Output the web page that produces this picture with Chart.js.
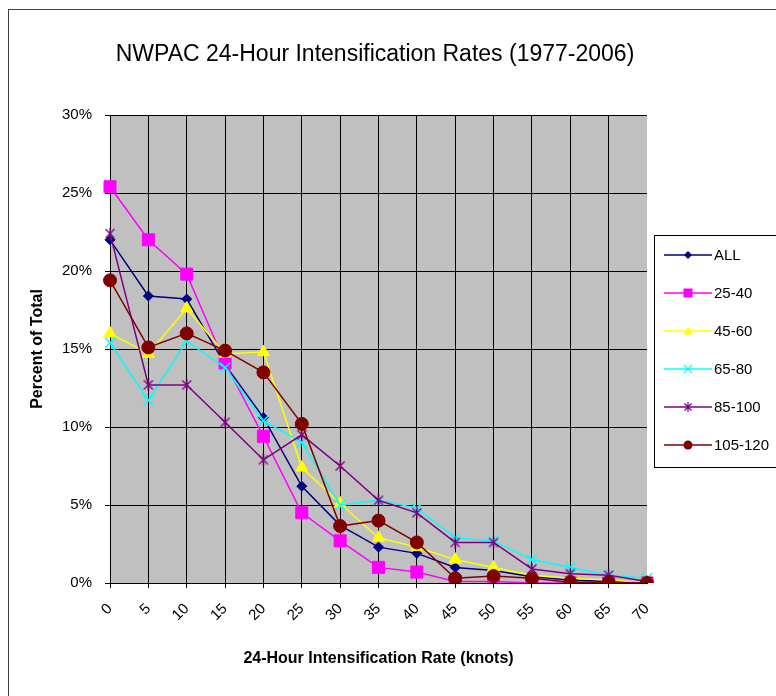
<!DOCTYPE html>
<html>
<head>
<meta charset="utf-8">
<script src="https://cdn.jsdelivr.net/npm/chart.js@4/dist/chart.umd.min.js"></script>
<style>
  html, body { margin: 0; padding: 0; background: #ffffff; }
  #wrap { width: 776px; height: 696px; position: relative; }
</style>
</head>
<body>
<div id="wrap"><canvas id="chart" width="776" height="696"></canvas></div>
<script>
// Intensification rate bins (knots per 24 h)
const rateBins = ['0', '5', '10', '15', '20', '25', '30', '35', '40', '45', '50', '55', '60', '65', '70'];

// Series names (initial intensity groups, knots)
const seriesNames = ['ALL', '25-40', '45-60', '65-80', '85-100', '105-120'];

// Percent of total cases in each bin
const allRates     = [22.0, 18.4, 18.2, 14.0, 10.6, 6.2, 3.7, 2.3, 1.9, 1.0, 0.8, 0.4, 0.2, 0.1, 0.0];
const rates25to40  = [25.4, 22.0, 19.8, 14.1, 9.4, 4.5, 2.7, 1.0, 0.7, 0.1, 0.1, 0.0, 0.0, 0.0, 0.0];
const rates45to60  = [16.0, 14.7, 17.6, 14.7, 14.8, 7.4, 5.1, 2.9, 2.3, 1.5, 1.0, 0.5, 0.3, 0.2, 0.0];
const rates65to80  = [15.4, 11.7, 15.5, 13.8, 10.4, 9.0, 5.0, 5.3, 4.8, 2.9, 2.7, 1.5, 1.0, 0.5, 0.3];
const rates85to100 = [22.4, 12.7, 12.7, 10.3, 7.9, 9.5, 7.5, 5.3, 4.5, 2.6, 2.6, 0.9, 0.6, 0.5, 0.1];
const rates105to120 = [19.4, 15.1, 16.0, 14.9, 13.5, 10.2, 3.65, 4.0, 2.6, 0.3, 0.45, 0.3, 0.05, 0.05, 0.0];

// Y axis tick values (percent)
const yTicks = [0, 5, 10, 15, 20, 25, 30];

const titleText = 'NWPAC 24-Hour Intensification Rates (1977-2006)';
const xAxisTitle = '24-Hour Intensification Rate (knots)';
const yAxisTitle = 'Percent of Total';

const FONT = '"Liberation Sans", Arial, Helvetica, sans-serif';

// Asterisk marker (X with a vertical bar) rendered to a small canvas
function makeAsterisk(size, color, lw) {
  const c = document.createElement('canvas');
  c.width = size; c.height = size;
  const g = c.getContext('2d');
  g.strokeStyle = color; g.lineWidth = lw;
  const m = size / 2, r = size / 2 - 1, d = r * 0.75;
  g.beginPath();
  g.moveTo(m - d, m - d); g.lineTo(m + d, m + d);
  g.moveTo(m + d, m - d); g.lineTo(m - d, m + d);
  g.moveTo(m, m - r); g.lineTo(m, m + r);
  g.stroke();
  return c;
}

const purple = '#800080';
const starMarker = makeAsterisk(14, purple, 1.3);

const seriesStyles = [
  { color: '#000080', style: 'rectRot',  radius: 5 },
  { color: '#FF00FF', style: 'rect',     radius: 8.5 },
  { color: '#FFFF00', style: 'triangle', radius: 7 },
  { color: '#00FFFF', style: 'crossRot', radius: 7 },
  { color: purple,    style: starMarker, radius: 7 },
  { color: '#800000', style: 'circle',   radius: 6.5 }
];
const seriesValues = [allRates, rates25to40, rates45to60, rates65to80, rates85to100, rates105to120];

const datasets = seriesNames.map((name, i) => ({
  label: name,
  data: seriesValues[i],
  borderColor: seriesStyles[i].color,
  backgroundColor: seriesStyles[i].color,
  pointBackgroundColor: seriesStyles[i].color,
  pointBorderColor: seriesStyles[i].color,
  pointStyle: seriesStyles[i].style,
  pointRadius: seriesStyles[i].radius,
  pointBorderWidth: seriesStyles[i].style === 'crossRot' ? 1.5 : 1,
  borderWidth: 1.5,
  tension: 0,
  fill: false,
  order: seriesNames.length - 1 - i
}));

// Small legend marker renderer
function drawLegendMarker(ctx, style, x, y, color) {
  ctx.save();
  ctx.fillStyle = color; ctx.strokeStyle = color; ctx.lineWidth = 1.2;
  ctx.beginPath();
  if (style === 'rectRot') {
    ctx.moveTo(x - 4, y); ctx.lineTo(x, y - 4); ctx.lineTo(x + 4, y); ctx.lineTo(x, y + 4); ctx.closePath(); ctx.fill();
  } else if (style === 'rect') {
    ctx.rect(x - 4.5, y - 4.5, 9, 9); ctx.fill();
  } else if (style === 'triangle') {
    ctx.moveTo(x - 4.5, y + 3.5); ctx.lineTo(x + 4.5, y + 3.5); ctx.lineTo(x, y - 4.5); ctx.closePath(); ctx.fill();
  } else if (style === 'crossRot') {
    ctx.moveTo(x - 4, y - 4); ctx.lineTo(x + 4, y + 4); ctx.moveTo(x + 4, y - 4); ctx.lineTo(x - 4, y + 4); ctx.stroke();
  } else if (style === 'circle') {
    ctx.arc(x, y, 4.5, 0, Math.PI * 2); ctx.fill();
  } else {
    ctx.moveTo(x - 3.5, y - 3.5); ctx.lineTo(x + 3.5, y + 3.5); ctx.moveTo(x + 3.5, y - 3.5); ctx.lineTo(x - 3.5, y + 3.5);
    ctx.moveTo(x, y - 5); ctx.lineTo(x, y + 5); ctx.stroke();
  }
  ctx.restore();
}

const decorPlugin = {
  id: 'decor',
  beforeDraw(chart) {
    const { ctx, chartArea: a } = chart;
    ctx.save();
    ctx.fillStyle = '#C0C0C0';
    ctx.fillRect(a.left, a.top, a.right - a.left, a.bottom - a.top);
    ctx.restore();
  },
  afterDraw(chart) {
    const { ctx } = chart;
    ctx.save();
    // outer frame
    ctx.strokeStyle = '#404040'; ctx.lineWidth = 1;
    ctx.strokeRect(8.5, 9.5, 800, 720);
    // title
    ctx.fillStyle = '#000'; ctx.font = '23px ' + FONT;
    ctx.textAlign = 'center'; ctx.textBaseline = 'middle';
    ctx.fillText(titleText, 375, 55);
    // legend box
    ctx.strokeStyle = '#000'; ctx.lineWidth = 1;
    ctx.fillStyle = '#fff';
    ctx.fillRect(654.5, 235.5, 130, 232);
    ctx.strokeRect(654.5, 235.5, 130, 232);
    ctx.font = '15px ' + FONT; ctx.textAlign = 'left'; ctx.textBaseline = 'middle';
    chart.data.datasets.forEach((ds, i) => {
      const y = 255 + i * 38;
      ctx.strokeStyle = ds.borderColor; ctx.lineWidth = 1.5;
      ctx.beginPath(); ctx.moveTo(664, y); ctx.lineTo(712, y); ctx.stroke();
      const st = seriesStyles[i].style;
      drawLegendMarker(ctx, typeof st === 'string' ? st : 'star', 688, y, ds.borderColor);
      ctx.fillStyle = '#000';
      ctx.fillText(ds.label, 714, y + 1);
    });
    ctx.restore();
  }
};

new Chart(document.getElementById('chart'), {
  type: 'line',
  data: { labels: rateBins, datasets },
  options: {
    responsive: false,
    animation: false,
    devicePixelRatio: 1,
    layout: { padding: { left: 0, top: 115, right: 129, bottom: 0 } },
    plugins: { legend: { display: false }, tooltip: { enabled: false }, title: { display: false } },
    scales: {
      x: {
        type: 'category',
        offset: false,
        afterFit(scale) { scale.height = 113; },
        grid: {
          color: (c) => (c.index === rateBins.length - 1 ? 'rgba(0,0,0,0)' : '#000'),
          lineWidth: 1, drawTicks: true, tickLength: 5
        },
        border: { display: true, color: '#000', width: 1 },
        ticks: {
          color: '#000', font: { family: FONT, size: 15 },
          minRotation: 45, maxRotation: 45, autoSkip: false, padding: 12
        },
        title: {
          display: true, text: xAxisTitle, color: '#000',
          font: { family: FONT, size: 16, weight: 'bold' },
          padding: { top: 0, bottom: 28 }
        }
      },
      y: {
        min: 0, max: 30,
        afterFit(scale) { scale.width = 110; },
        afterBuildTicks(scale) { scale.ticks = yTicks.map(v => ({ value: v })); },
        grid: { color: '#000', lineWidth: 1, drawTicks: true, tickLength: 5 },
        border: { display: true, color: '#000', width: 1 },
        ticks: {
          color: '#000', font: { family: FONT, size: 15 }, padding: 13,
          callback: (v) => v + '%'
        },
        title: {
          display: true, text: yAxisTitle, color: '#000',
          font: { family: FONT, size: 16, weight: 'bold' },
          padding: { top: 28, bottom: 0 }
        }
      }
    }
  },
  plugins: [decorPlugin]
});
</script>
</body>
</html>
